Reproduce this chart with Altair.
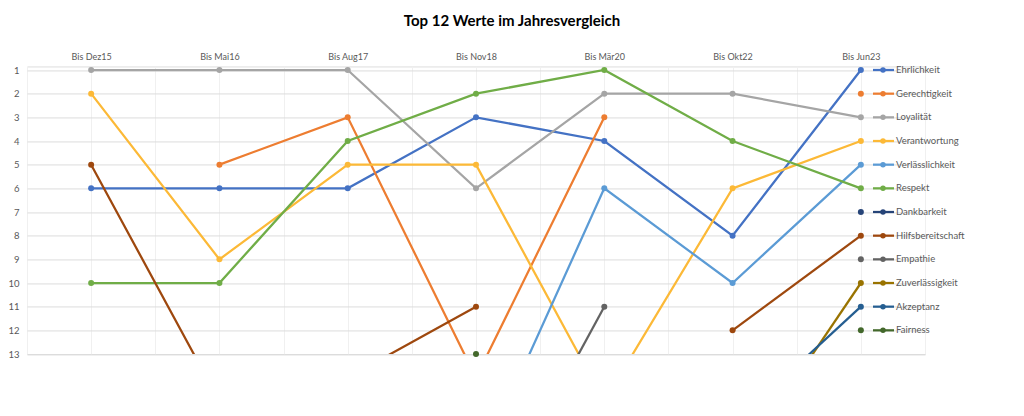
import json
import altair as alt
import pandas as pd

categories = ["Bis Dez15", "Bis Mai16", "Bis Aug17", "Bis Nov18", "Bis Mär20", "Bis Okt22", "Bis Jun23"]
series_names = ["Ehrlichkeit", "Gerechtigkeit", "Loyalität", "Verantwortung", "Verlässlichkeit",
                "Respekt", "Dankbarkeit", "Hilfsbereitschaft", "Empathie", "Zuverlässigkeit",
                "Akzeptanz", "Fairness"]
series_colors = ["#4472C4", "#ED7D31", "#A5A5A5", "#FCB937", "#5B9BD5", "#70AD47",
                 "#264478", "#9E480E", "#636363", "#997300", "#255E91", "#43682B"]

ehrlichkeit = [6, 6, 6, 3, 4, 8, 1]
gerechtigkeit = [None, 5, 3, 14, 3, None, 2]
loyalitaet = [1, 1, 1, 6, 2, 2, 3]
verantwortung = [2, 9, 5, 5, 15, 6, 4]
verlaesslichkeit = [None, None, None, 18, 6, 10, 5]
respekt = [10, 10, 4, 2, 1, 4, 6]
dankbarkeit = [None, None, None, None, None, None, 7]
hilfsbereitschaft = [5, 15, 14, 11, None, 12, 8]
empathie = [None, None, None, 21, 11, None, 9]
zuverlaessigkeit = [None, None, None, None, None, 18, 10]
akzeptanz = [None, None, None, None, None, 16, 11]
fairness = [None, None, None, 13, None, None, 12]

series_values = [ehrlichkeit, gerechtigkeit, loyalitaet, verantwortung, verlaesslichkeit,
                 respekt, dankbarkeit, hilfsbereitschaft, empathie, zuverlaessigkeit,
                 akzeptanz, fairness]

rows = []
for name, vals in zip(series_names, series_values):
    seg = 0
    prev_none = True
    for i, v in enumerate(vals):
        if v is None:
            prev_none = True
            continue
        if prev_none:
            seg += 1
        prev_none = False
        rows.append({"series": name, "cat": categories[i], "idx": i, "rank": v,
                     "seg": f"{name}-{seg}"})
df = pd.DataFrame(rows)
df_visible = df[df["rank"] <= 13]

legend_df = pd.DataFrame({"series": series_names, "rank": list(range(1, len(series_names) + 1))})

label_font = "Lato"
label_color = "#595959"
cats_js = json.dumps(categories, ensure_ascii=False)
x_ticks = [i / 2 for i in range(-1, 2 * len(categories))]

x_enc = alt.X("idx:Q",
              scale=alt.Scale(domain=[-0.5, len(categories) - 0.5], nice=False, zero=False),
              axis=alt.Axis(orient="top", values=x_ticks, title=None, ticks=False, domain=False,
                            grid=True, gridColor="#F0F0F0", gridWidth=1,
                            labelExpr=f"datum.value % 1 === 0 ? {cats_js}[datum.value] : ''",
                            labelOverlap=False, labelFlush=False, labelFont=label_font,
                            labelFontSize=9, labelColor=label_color, labelPadding=4.5))
y_axis = alt.Axis(values=list(range(1, 14)), title=None, ticks=False, domain=False,
                  grid=True, gridColor="#DCDCDC", gridWidth=1,
                  labelOverlap=False, labelFlush=False,
                  labelFont=label_font, labelFontSize=9.5, labelColor=label_color,
                  labelPadding=8)
y_scale = alt.Scale(domain=[0.85, 13], reverse=True, nice=False, zero=False)
y_enc = alt.Y("rank:Q", scale=y_scale, axis=y_axis)
color_enc = alt.Color("series:N", scale=alt.Scale(domain=series_names, range=series_colors),
                      legend=None)

lines = alt.Chart(df).mark_line(strokeWidth=2.25, clip=True).encode(
    x=x_enc, y=y_enc, color=color_enc, detail="seg:N")
points = alt.Chart(df_visible).mark_circle(size=36, opacity=1).encode(
    x=x_enc, y=y_enc, color=color_enc)

leg_rule = alt.Chart(legend_df).mark_rule(strokeWidth=2.25).encode(
    x=alt.value(846), x2=alt.value(867), y=y_enc, color=color_enc)
leg_pt = alt.Chart(legend_df).mark_circle(size=30, opacity=1).encode(
    x=alt.value(856), y=y_enc, color=color_enc)
leg_txt = alt.Chart(legend_df).mark_text(align="left", baseline="middle", font=label_font,
                                         fontSize=9.5, color=label_color).encode(
    x=alt.value(869), y=y_enc, text="series:N")

chart = alt.layer(lines, points, leg_rule, leg_pt, leg_txt).properties(
    width=898, height=287.55,
    title=alt.TitleParams("Top 12 Werte im Jahresvergleich", font=label_font, fontSize=15,
                          fontWeight="bold", color="#000000", anchor="middle", dx=36, offset=24),
    autosize=alt.AutoSizeParams(type="none"),
    padding={"left": 27, "top": 66.45, "right": 99, "bottom": 62},
).configure_view(stroke=None).configure_axis(labelOverlap=False).configure(background="white")

chart.save("out.html", embed_options={"renderer": "svg", "actions": False})
